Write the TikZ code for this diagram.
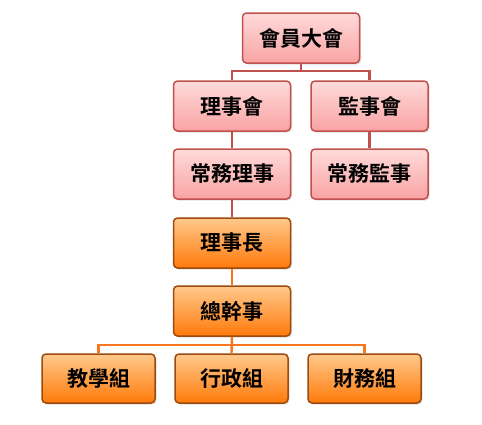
\documentclass[tikz,border=0pt]{standalone}
\usepackage{fontspec}
\newfontfamily\cjk[BoldFont={Noto Sans CJK TC Bold}]{Noto Sans CJK TC}
\usetikzlibrary{shadows}
\definecolor{pinkline}{HTML}{C0504D}
\definecolor{pinktop}{HTML}{FFDADA}
\definecolor{pinkbot}{HTML}{F9A3A3}
\definecolor{orgline}{HTML}{9C4A0E}
\definecolor{orgtop}{HTML}{FFC98C}
\definecolor{orgbot}{HTML}{FF7A0A}
\definecolor{orgwire}{HTML}{F7761E}
\tikzset{
  orgbox/.style={draw, rounded corners=4pt, line width=1.5pt,
    minimum width=117pt, minimum height=50pt, inner sep=0pt,
    font=\cjk\bfseries\fontsize{21}{21}\selectfont,
    drop shadow={shadow xshift=1.5pt, shadow yshift=-1.5pt, opacity=0.25}},
  pinkbox/.style={orgbox, pinkline, text=black, top color=pinktop, bottom color=pinkbot},
  orangebox/.style={orgbox, orgline, text=black, top color=orgtop, bottom color=orgbot},
  smallbox/.style={minimum width=113pt, minimum height=49pt},
  pinkwire/.style={pinkline, line width=2.4pt},
  orangewire/.style={orgwire, line width=2.4pt}
}

\begin{document}
\begin{tikzpicture}[x=1pt,y=-1pt]
\useasboundingbox (0,0) rectangle (482,424);

% Board
\node[pinkbox] (assembly) at (301,38) {會員大會};
\node[pinkbox] (board) at (232,106) {理事會};
\node[pinkbox] (supervisors) at (369.5,106) {監事會};
\node[pinkbox] (standdir) at (232,174) {常務理事};
\node[pinkbox] (standsup) at (369.5,174) {常務監事};

% Staff
\node[orangebox] (chair) at (232,243) {理事長};
\node[orangebox] (secretary) at (232,311) {總幹事};
\node[orangebox, smallbox] (teach) at (98.5,378.5) {教學組};
\node[orangebox, smallbox] (admin) at (231.5,378.5) {行政組};
\node[orangebox, smallbox] (finance) at (364.5,378.5) {財務組};

\draw[pinkwire] (assembly.south) -- ++(0,7) -| (board.north);
\draw[pinkwire] (assembly.south) -- ++(0,7) -| (supervisors.north);
\draw[pinkwire] (board.south) -- (standdir.north);
\draw[pinkwire] (supervisors.south) -- (standsup.north);
\draw[pinkwire] (standdir.south) -- (chair.north);

\draw[orangewire] (chair.south) -- (secretary.north);
\draw[orangewire] (secretary.south) -- ++(0,8) -| (teach.north);
\draw[orangewire] (secretary.south) -- (admin.north);
\draw[orangewire] (secretary.south) -- ++(0,8) -| (finance.north);

\end{tikzpicture}
\end{document}
